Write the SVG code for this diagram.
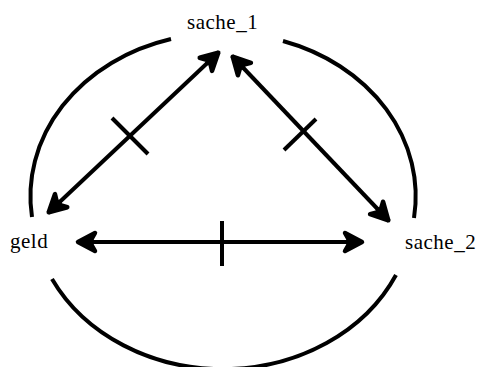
<svg xmlns="http://www.w3.org/2000/svg" width="481" height="367" viewBox="0 0 481 367">
<style>
.lbl{font-family:"Liberation Serif","Times New Roman",serif;font-size:21px;fill:#000;letter-spacing:0.5px}
.arc{fill:none;stroke:#000;stroke-width:4}
.con{fill:none;stroke:#000;stroke-width:4;marker-start:url(#ah);marker-end:url(#ah)}
.tick{stroke:#000;stroke-width:4}
</style>
<defs>
<marker id="ah" markerUnits="userSpaceOnUse" markerWidth="32" markerHeight="32" viewBox="-26 -16 32 32" refX="0" refY="0" orient="auto-start-reverse">
<path d="M-1,0 L-18,-9 L-14,-2 L-16,0 L-14,2 L-18,9 Z" fill="#000" stroke="#000" stroke-width="4.5" stroke-linejoin="round"/>
</marker>
</defs>
<rect width="481" height="367" fill="#fff"/>
<g id="arcs">
<path class="arc" d="M171,39 A191,163 0 0 0 32,217"/>
<path class="arc" d="M283,41 A191,163 0 0 1 414,218"/>
<path class="arc" d="M52,279 A191,163 0 0 0 396,275"/>
</g>
<g id="connectors">
<line class="con" x1="48" y1="213" x2="219" y2="52"/>
<line class="con" x1="232" y1="56" x2="389" y2="221"/>
<line class="con" x1="77" y1="242" x2="363" y2="242"/>
<line class="tick" x1="112" y1="118" x2="148" y2="154"/>
<line class="tick" x1="284" y1="150" x2="316" y2="119"/>
<line class="tick" x1="222" y1="221" x2="222" y2="266"/>
</g>
<g id="sache_1"><text class="lbl" x="187" y="29">sache_1</text></g>
<g id="geld"><text class="lbl" x="10" y="248">geld</text></g>
<g id="sache_2"><text class="lbl" x="405" y="249">sache_2</text></g>
</svg>
